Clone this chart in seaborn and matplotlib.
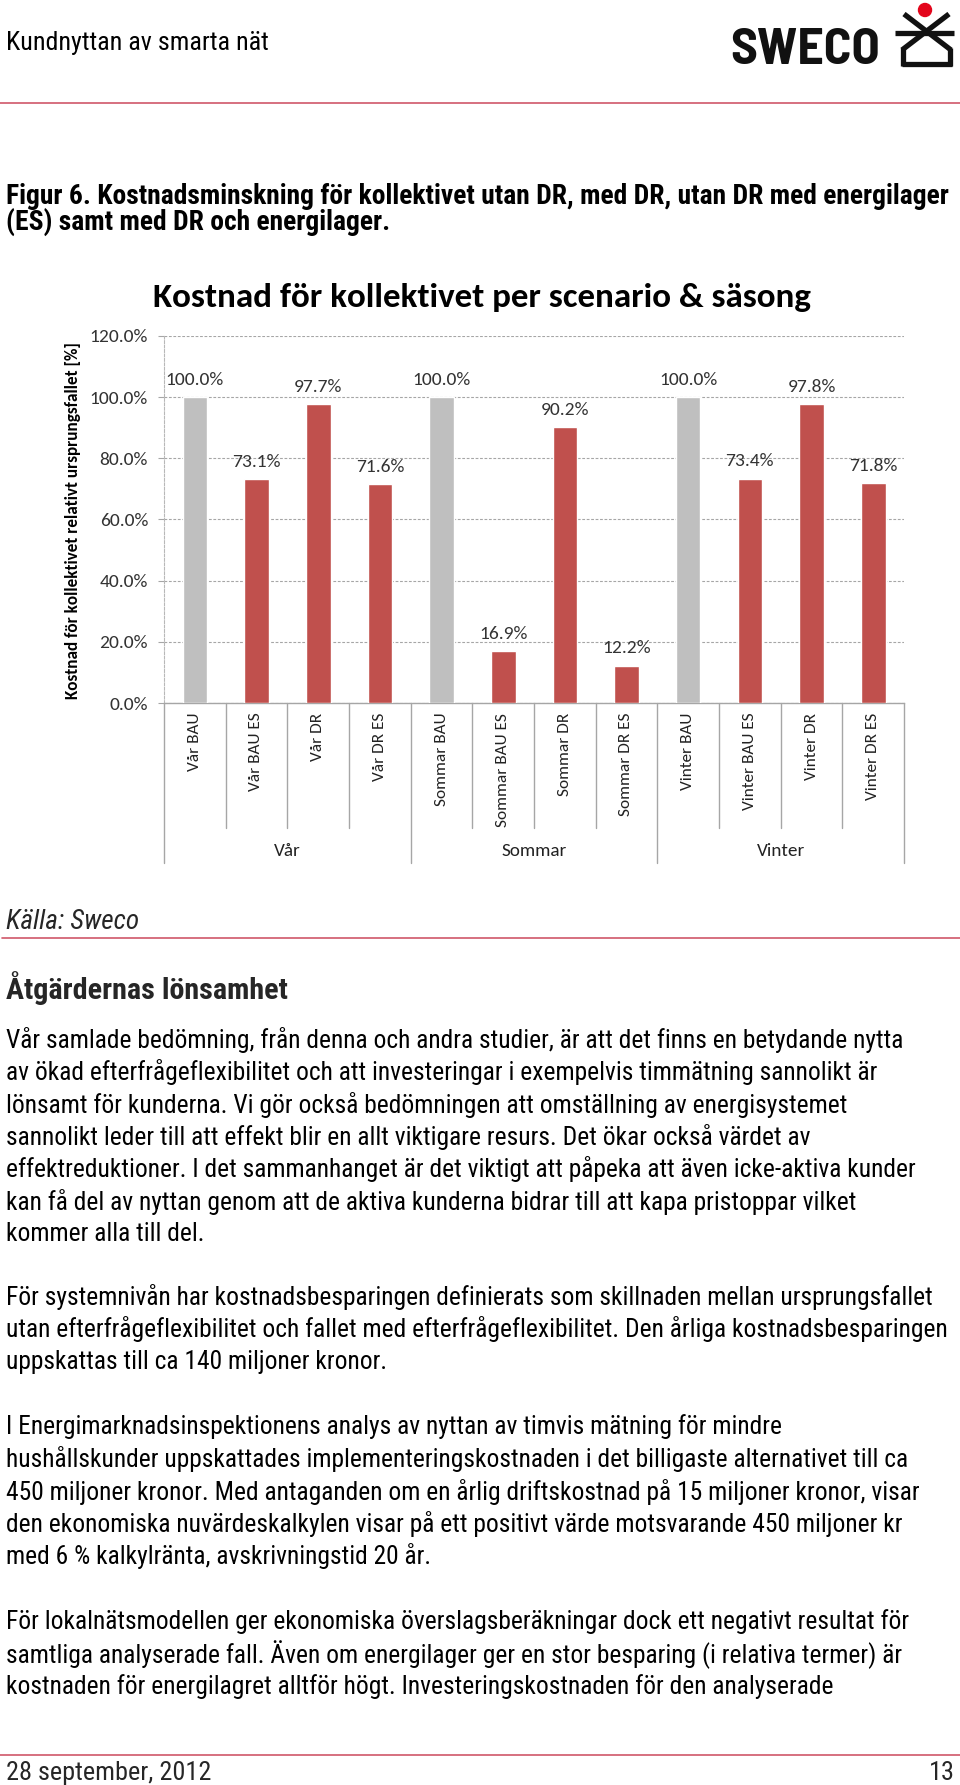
import matplotlib
matplotlib.use("Agg")
import matplotlib.pyplot as plt
import matplotlib.transforms as mtransforms
from matplotlib.lines import Line2D
from matplotlib.patches import Ellipse
import seaborn as sns
import pandas as pd
from matplotlib import font_manager

# ---------------- data ----------------
scenarios = ["Vår BAU", "Vår BAU ES", "Vår DR", "Vår DR ES",
             "Sommar BAU", "Sommar BAU ES", "Sommar DR", "Sommar DR ES",
             "Vinter BAU", "Vinter BAU ES", "Vinter DR", "Vinter DR ES"]
values = [1.000, 0.731, 0.977, 0.716,
          1.000, 0.169, 0.902, 0.122,
          1.000, 0.734, 0.978, 0.718]
is_base = [True, False, False, False] * 3
seasons = ["Vår", "Sommar", "Vinter"]
yticks = [0.0, 0.2, 0.4, 0.6, 0.8, 1.0, 1.2]

chart_title = "Kostnad för kollektivet per scenario & säsong"
ylabel = "Kostnad för kollektivet relativt ursprungsfallet [%]"

header = "Kundnyttan av smarta nät"
logo_text = "SWECO"
caption_lines = ["Figur 6. Kostnadsminskning för kollektivet utan DR, med DR, utan DR med energilager",
                 "(ES) samt med DR och energilager."]
source = "Källa: Sweco"
heading = "Åtgärdernas lönsamhet"
para1 = ["Vår samlade bedömning, från denna och andra studier, är att det finns en betydande nytta",
         "av ökad efterfrågeflexibilitet och att investeringar i exempelvis timmätning sannolikt är",
         "lönsamt för kunderna. Vi gör också bedömningen att omställning av energisystemet",
         "sannolikt leder till att effekt blir en allt viktigare resurs. Det ökar också värdet av",
         "effektreduktioner. I det sammanhanget är det viktigt att påpeka att även icke-aktiva kunder",
         "kan få del av nyttan genom att de aktiva kunderna bidrar till att kapa pristoppar vilket",
         "kommer alla till del."]
para2 = ["För systemnivån har kostnadsbesparingen definierats som skillnaden mellan ursprungsfallet",
         "utan efterfrågeflexibilitet och fallet med efterfrågeflexibilitet. Den årliga kostnadsbesparingen",
         "uppskattas till ca 140 miljoner kronor."]
para3 = ["I Energimarknadsinspektionens analys av nyttan av timvis mätning för mindre",
         "hushållskunder uppskattades implementeringskostnaden i det billigaste alternativet till ca",
         "450 miljoner kronor. Med antaganden om en årlig driftskostnad på 15 miljoner kronor, visar",
         "den ekonomiska nuvärdeskalkylen visar på ett positivt värde motsvarande 450 miljoner kr",
         "med 6 % kalkylränta, avskrivningstid 20 år."]
para4 = ["För lokalnätsmodellen ger ekonomiska överslagsberäkningar dock ett negativt resultat för",
         "samtliga analyserade fall. Även om energilager ger en stor besparing (i relativa termer) är",
         "kostnaden för energilagret alltför högt. Investeringskostnaden för den analyserade"]
footer_left = "28 september, 2012"
footer_right = "13"

# ---------------- fonts ----------------
sns.set_theme(style="white")
entries = font_manager.fontManager.ttflist

def has(name, weight, style):
    return any(f.name == name and f.weight == weight and f.style == style for f in entries)

body_font = "Liberation Sans"
for cand in ["Liberation Sans Narrow", "Roboto Condensed", "Fira Sans Condensed",
             "IBM Plex Sans Condensed"]:
    if has(cand, 400, "normal") and has(cand, 700, "normal") and has(cand, 400, "italic"):
        body_font = cand
        break
chart_font = "Carlito" if has("Carlito", 700, "normal") else "Open Sans"
logo_font = "Barlow Semi Condensed" if has("Barlow Semi Condensed", 700, "normal") else "DejaVu Sans"
plt.rcParams["font.family"] = [body_font, "DejaVu Sans"]

W, H = 960, 1785
fig = plt.figure(figsize=(W / 100, H / 100), dpi=100)
fig.patch.set_facecolor("white")
renderer = fig.canvas.get_renderer()

def fx(x):
    return x / W

def fy(y):
    return 1 - y / H

def fit_width(t, target):
    w = t.get_window_extent(renderer).width
    t.set_fontsize(t.get_fontsize() * target / w)
    return t.get_fontsize()

def fit_height(t, target):
    h = t.get_window_extent(renderer).height
    t.set_fontsize(t.get_fontsize() * target / h)
    return t.get_fontsize()

RED_LINE = "#D0586A"
GRAY = "#BFBFBF"
RED = "#C0504D"

# ---------------- page header ----------------
t = fig.text(fx(6), fy(43), header, fontsize=16, va="center", ha="left", color="black")
fit_width(t, 263)
t = fig.text(fx(730), fy(50), logo_text, fontsize=30, fontweight="bold", family=logo_font,
             va="center", ha="left", color="#111111")
fit_width(t, 150)

lw_logo = 3.8
def seg(p, q, col="#111111"):
    fig.add_artist(Line2D([fx(p[0]), fx(q[0])], [fy(p[1]), fy(q[1])],
                          transform=fig.transFigure, color=col, lw=lw_logo,
                          solid_capstyle="butt", solid_joinstyle="miter"))
seg((895, 33), (954, 33))
seg((904, 14), (951, 50))
seg((949, 14), (902, 50))
seg((903, 48.5), (903, 66))
seg((950, 48.5), (950, 66))
seg((901.5, 64.5), (951.5, 64.5))
fig.add_artist(Ellipse((fx(925), fy(10)), width=13 / W, height=13 / H,
                       transform=fig.transFigure, color="#E3051B", zorder=5))

fig.add_artist(Line2D([0, 1], [fy(103), fy(103)], transform=fig.transFigure,
                      color=RED_LINE, lw=1.2))

cap_objs = [fig.text(fx(6), fy(196 + 26 * i), line, fontsize=17, fontweight="bold",
                     va="center", ha="left", color="black")
            for i, line in enumerate(caption_lines)]
fs_cap = fit_width(cap_objs[0], 944)
for c in cap_objs[1:]:
    c.set_fontsize(fs_cap)

# ---------------- chart ----------------
df = pd.DataFrame({"scenario": scenarios, "value": values})
palette = {s: (GRAY if b else RED) for s, b in zip(scenarios, is_base)}

ax = fig.add_axes([fx(164), fy(703), fx(904) - fx(164), (703 - 336) / H])
sns.barplot(data=df, x="scenario", y="value", hue="scenario", palette=palette,
            width=0.4, saturation=1, legend=False, ax=ax, zorder=3)
ax.set_xlim(-0.5, len(scenarios) - 0.5)
ax.set_ylim(yticks[0], yticks[-1])
ax.set_yticks(yticks)
ax.set_yticklabels([f"{v * 100:.1f}%" for v in yticks], family=chart_font,
                   fontsize=14, color="#333333")
ax.set_xlabel("")
ax.set_ylabel("")
ax.set_xticks(range(len(scenarios)))
ax.set_xticklabels(scenarios, rotation=90, family=chart_font, fontsize=12.4,
                   color="#222222", va="top", ha="center")
ax.tick_params(axis="x", length=0, pad=7)
ax.tick_params(axis="y", length=4.5, width=0.8, color="#A6A6A6", pad=7, left=True)
ax.yaxis.grid(True, linestyle=(0, (2.5, 1.5)), color="#A6A6A6", lw=0.8)
ax.xaxis.grid(False)
ax.set_axisbelow(True)
for s in ["top", "right"]:
    ax.spines[s].set_visible(False)
ax.spines["left"].set_color("#B8B8B8")
ax.spines["left"].set_linestyle((0, (2.5, 1.5)))
ax.spines["left"].set_linewidth(0.8)
ax.spines["bottom"].set_color("#A6A6A6")
ax.spines["bottom"].set_linewidth(1.0)
ax.set_facecolor("white")

for patch, v in zip(sorted(ax.patches, key=lambda p: p.get_x()), values):
    cx = patch.get_x() + patch.get_width() / 2
    ax.annotate(f"{v * 100:.1f}%", xy=(cx, patch.get_height()), xytext=(0, 12.5),
                textcoords="offset points", ha="center", va="center",
                family=chart_font, fontsize=14, color="#333333", zorder=4)

# category separators and season labels below axis
btrans = mtransforms.blended_transform_factory(ax.transData, fig.transFigure)
n_per = len(scenarios) // len(seasons)
for k in range(len(scenarios) + 1):
    xb = k - 0.5
    bottom = 863 if k % n_per == 0 else 828
    ax.add_line(Line2D([xb, xb], [fy(703), fy(bottom)], transform=btrans,
                       color="#A6A6A6", lw=1.0, clip_on=False))
for g, name in enumerate(seasons):
    xc = g * n_per + (n_per - 1) / 2
    ax.text(xc, fy(851), name, transform=btrans, ha="center", va="center",
            family=chart_font, fontsize=13.8, color="#222222")

t = fig.text(fx(482), fy(298), chart_title, family=chart_font, fontweight="bold",
             fontsize=22, ha="center", va="center", color="black")
fit_width(t, 655)
t = fig.text(fx(73), fy(521), ylabel, family=chart_font, fontweight="bold",
             fontsize=11, rotation=90, ha="center", va="center", color="black")
fit_height(t, 358)

# ---------------- body text ----------------
t = fig.text(fx(6), fy(922), source, fontsize=16.5, style="italic", va="center", ha="left")
fit_width(t, 133)
fig.add_artist(Line2D([fx(2), 1], [fy(938), fy(938)], transform=fig.transFigure,
                      color=RED_LINE, lw=1.2))
t = fig.text(fx(6), fy(988), heading, fontsize=19, fontweight="bold", va="center", ha="left")
fit_width(t, 282)

# body size: the largest that keeps reference line ends (no line past its end)
fits = []
for line, end in [(para1[0], 925), (para1[4], 928), (para2[0], 946), (para2[1], 946),
                  (para3[2], 934)]:
    probe = fig.text(fx(6), fy(1040), line, fontsize=17, va="center", ha="left")
    fits.append(fit_width(probe, end - 6))
    probe.remove()
fs_body = min(fits)

def para(lines, y0, step=32.3):
    for i, line in enumerate(lines):
        fig.text(fx(6), fy(y0 + step * i), line, fontsize=fs_body, va="center", ha="left",
                 color="black")

para(para1, 1040)
para(para2, 1297)
para(para3, 1427)
para(para4, 1622)

fig.add_artist(Line2D([0, 1], [fy(1755), fy(1755)], transform=fig.transFigure,
                      color=RED_LINE, lw=1.2))
t = fig.text(fx(6), fy(1773), footer_left, fontsize=fs_body, va="center", ha="left")
fit_width(t, 205)
fig.text(fx(955), fy(1773), footer_right, fontsize=t.get_fontsize(), va="center", ha="right")

fig.savefig("out.png", dpi=100, facecolor="white")
